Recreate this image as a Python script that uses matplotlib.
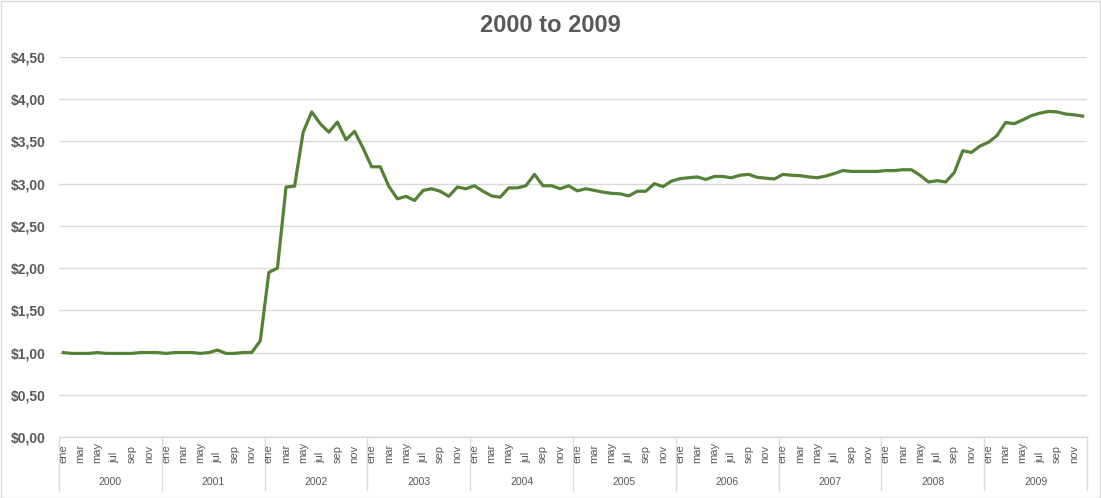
import matplotlib
matplotlib.use("Agg")
import matplotlib.pyplot as plt
from matplotlib.ticker import FuncFormatter, MultipleLocator
from matplotlib.patches import Rectangle

years = ["2000", "2001", "2002", "2003", "2004", "2005", "2006", "2007", "2008", "2009"]
months = ["ene", "feb", "mar", "abr", "may", "jun", "jul", "ago", "sep", "oct", "nov", "dic"]
shown_months = ["ene", "mar", "may", "jul", "sep", "nov"]

v2000 = [1.00, 0.99, 0.99, 0.99, 1.00, 0.99, 0.99, 0.99, 0.99, 1.00, 1.00, 1.00]
v2001 = [0.99, 1.00, 1.00, 1.00, 0.99, 1.00, 1.03, 0.99, 0.99, 1.00, 1.00, 1.14]
v2002 = [1.95, 2.00, 2.96, 2.97, 3.61, 3.85, 3.71, 3.61, 3.73, 3.52, 3.62, 3.42]
v2003 = [3.20, 3.20, 2.97, 2.82, 2.85, 2.80, 2.92, 2.94, 2.91, 2.85, 2.96, 2.94]
v2004 = [2.975, 2.91, 2.855, 2.84, 2.95, 2.95, 2.975, 3.11, 2.975, 2.975, 2.94, 2.975]
v2005 = [2.915, 2.94, 2.92, 2.90, 2.885, 2.88, 2.855, 2.91, 2.91, 3.00, 2.965, 3.03]
v2006 = [3.06, 3.07, 3.08, 3.05, 3.085, 3.085, 3.07, 3.10, 3.11, 3.075, 3.065, 3.055]
v2007 = [3.11, 3.10, 3.095, 3.08, 3.07, 3.09, 3.12, 3.155, 3.145, 3.145, 3.145, 3.145]
v2008 = [3.155, 3.155, 3.165, 3.165, 3.10, 3.02, 3.035, 3.02, 3.13, 3.39, 3.37, 3.445]
v2009 = [3.49, 3.57, 3.725, 3.71, 3.755, 3.805, 3.835, 3.855, 3.85, 3.825, 3.815, 3.80]

values = v2000 + v2001 + v2002 + v2003 + v2004 + v2005 + v2006 + v2007 + v2008 + v2009

plt.rcParams["font.family"] = ["Liberation Sans", "DejaVu Sans"]

W, H = 1101, 498
fig = plt.figure(figsize=(W / 100, H / 100), dpi=100)
left_px, right_px, top_px, bottom_px = 59, 1087, 57, 437
ax = fig.add_axes([left_px / W, (H - bottom_px) / H,
                   (right_px - left_px) / W, (bottom_px - top_px) / H])
ax_h_px = bottom_px - top_px

grey = "#595959"
gridc = "#d9d9d9"

x = list(range(len(values)))
ax.plot(x, values, color="#548235", lw=2.3, solid_joinstyle="round", zorder=3)

ax.set_xlim(-0.5, len(values) - 0.5)
ax.set_ylim(0, 4.5)
ax.yaxis.set_major_locator(MultipleLocator(0.5))
ax.yaxis.set_major_formatter(FuncFormatter(lambda v, p: ("$%.2f" % v).replace(".", ",")))
ax.grid(axis="y", color=gridc, lw=1)
ax.set_axisbelow(True)
for s in ["top", "right", "left"]:
    ax.spines[s].set_visible(False)
ax.spines["bottom"].set_color(gridc)
ax.spines["bottom"].set_linewidth(1)
ax.tick_params(axis="y", length=0, pad=9.4, labelsize=10, labelcolor=grey)
for lbl in ax.get_yticklabels():
    lbl.set_fontweight("bold")
ax.set_xticks([])

tr = ax.get_xaxis_transform()
month_y = -(463 - bottom_px) / ax_h_px
year_y = -(482 - bottom_px) / ax_h_px
sep_y = -(490 - bottom_px) / ax_h_px

for yi, yr in enumerate(years):
    for mi, m in enumerate(months):
        if m in shown_months:
            ax.text(yi * 12 + mi, month_y, m, transform=tr, rotation=90,
                    ha="center", va="bottom", fontsize=8, color=grey)
    ax.text(yi * 12 + 5.5, year_y, yr, transform=tr, ha="center", va="center",
            fontsize=7.5, color=grey)

for b in range(len(years) + 1):
    xb = b * 12 - 0.5
    ax.plot([xb, xb], [0, sep_y], transform=tr, color=gridc, lw=1, clip_on=False)

fig.text(0.5, 1 - 26 / H, "2000 to 2009", ha="center", va="center",
         fontsize=17, fontweight="bold", color=grey)

fig.patches.append(Rectangle((0.5 / W, 0.5 / H), 1 - 1.5 / W, 1 - 1.5 / H,
                             transform=fig.transFigure, fill=False,
                             edgecolor=gridc, lw=1))

fig.savefig("out.png", dpi=100)
